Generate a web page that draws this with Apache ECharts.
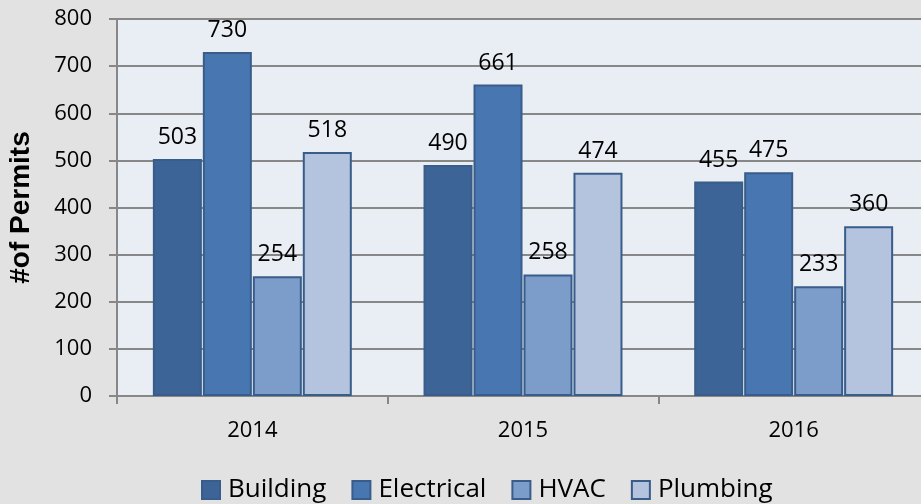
<!DOCTYPE html>
<html>
<head>
<meta charset="utf-8">
<style>
  html, body { margin: 0; padding: 0; background: #e2e2e2; }
  #chart { width: 921px; height: 504px; }
</style>
<script src="https://cdn.jsdelivr.net/npm/echarts@6/dist/echarts.min.js"></script>
</head>
<body>
<div id="chart"></div>
<script>
  // 数据
  var years = ['2014', '2015', '2016'];
  var building = [503, 490, 455];
  var electrical = [730, 661, 475];
  var hvac = [254, 258, 233];
  var plumbing = [518, 474, 360];

  var chart = echarts.init(document.getElementById('chart'));

  function makeSeries(name, data, color) {
    return {
      name: name,
      type: 'bar',
      data: data,
      barWidth: 49,
      barGap: '2%',
      itemStyle: {
        color: color,
        borderColor: '#385d8a',
        borderWidth: 2
      },
      label: {
        show: true,
        position: 'top',
        distance: 10,
        color: '#000',
        fontFamily: 'Open Sans',
        fontSize: 23
      }
    };
  }

  var option = {
    backgroundColor: '#e2e2e2',
    animation: false,
    grid: {
      left: 117,
      width: 812,
      top: 19,
      bottom: 108,
      outerBoundsMode: 'none',
      show: true,
      backgroundColor: '#e9edf4',
      borderWidth: 0
    },
    legend: {
      left: 196,
      top: 472,
      itemWidth: 18,
      itemHeight: 18,
      itemGap: 25,
      icon: 'rect',
      itemStyle: { borderColor: '#385d8a', borderWidth: 2 },
      textStyle: {
        color: '#000',
        fontFamily: 'Open Sans',
        fontSize: 26,
        padding: [0, 0, 0, 3]
      },
      data: ['Building', 'Electrical', 'HVAC', 'Plumbing']
    },
    xAxis: {
      type: 'category',
      data: years,
      axisLine: { lineStyle: { color: '#878787', width: 2 } },
      axisTick: { show: true, length: 8, lineStyle: { color: '#878787', width: 2 } },
      axisLabel: { color: '#000', fontFamily: 'Open Sans', fontSize: 22, margin: 24 }
    },
    yAxis: {
      type: 'value',
      min: 0,
      max: 800,
      interval: 100,
      name: '#of Permits',
      nameLocation: 'middle',
      nameGap: 82,
      nameTextStyle: {
        color: '#000',
        fontFamily: 'Liberation Sans',
        fontWeight: 'bold',
        fontSize: 28
      },
      axisLine: { show: true, lineStyle: { color: '#878787', width: 2 } },
      axisTick: { show: true, length: 8, lineStyle: { color: '#878787', width: 2 } },
      splitLine: { lineStyle: { color: '#878787', width: 2 } },
      axisLabel: { color: '#000', fontFamily: 'Open Sans', fontSize: 22, margin: 25 }
    },
    series: [
      makeSeries('Building', building, '#3c6496'),
      makeSeries('Electrical', electrical, '#4876b0'),
      makeSeries('HVAC', hvac, '#7c9cca'),
      makeSeries('Plumbing', plumbing, '#b4c4df')
    ]
  };

  chart.setOption(option);
</script>
</body>
</html>
